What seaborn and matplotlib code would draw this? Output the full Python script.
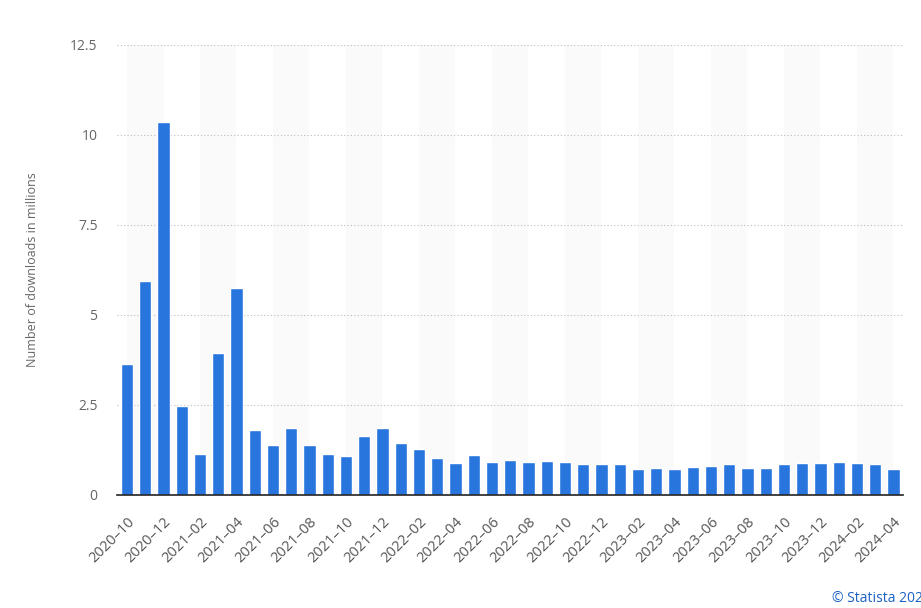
import matplotlib
matplotlib.use("Agg")
import matplotlib.pyplot as plt
import seaborn as sns
import pandas as pd

# monthly downloads, 2020-10 .. 2024-04
months = pd.period_range("2020-10", "2024-04", freq="M").strftime("%Y–%m").tolist()
downloads = [3.65, 5.93, 10.35, 2.48, 1.15, 3.95, 5.75, 1.8, 1.4, 1.85,
             1.4, 1.15, 1.08, 1.65, 1.85, 1.43, 1.27, 1.02, 0.88, 1.12,
             0.92, 0.98, 0.92, 0.95, 0.92, 0.85, 0.85, 0.85, 0.71, 0.74,
             0.71, 0.77, 0.81, 0.85, 0.74, 0.74, 0.85, 0.88, 0.88, 0.92,
             0.88, 0.85, 0.71]
yticks = [0, 2.5, 5, 7.5, 10, 12.5]
ytick_labels = ["0", "2.5", "5", "7.5", "10", "12.5"]

df = pd.DataFrame({"month": months, "downloads": downloads})

sns.set_style("white")
plt.rcParams["font.family"] = ["Open Sans", "DejaVu Sans"]

fig = plt.figure(figsize=(9.21, 6.08), dpi=100)
ax = fig.add_axes([0.127, 0.186, 0.853, 0.740])

# alternating light bands, two months each
for start in range(0, len(months), 4):
    ax.axvspan(start, start + 2, color="#fafafa", zorder=0, lw=0)

sns.barplot(data=df, x="month", y="downloads", color="#2876dd",
            width=0.68, saturation=1, ax=ax, zorder=3)

ax.set_ylim(0, 12.5)
ax.set_xlim(-0.55, len(months) - 0.5)
ax.set_yticks(yticks)
ax.set_yticklabels(ytick_labels)
ax.yaxis.grid(True, linestyle=(0, (1, 2)), color="#bbbbbb", lw=0.8, zorder=1)
ax.set_axisbelow(False)

tick_pos = list(range(0, len(months), 2))
ax.set_xticks(tick_pos)
ax.set_xticklabels([months[i] for i in tick_pos], rotation=45, ha="right",
                   rotation_mode="anchor", fontsize=10.5, color="#555555")
ax.tick_params(axis="y", labelsize=10, labelcolor="#666666", length=0, pad=14)
ax.tick_params(axis="x", length=0, pad=14)

for s in ["top", "right", "left"]:
    ax.spines[s].set_visible(False)
ax.spines["bottom"].set_color("#222222")
ax.spines["bottom"].set_linewidth(1.2)
ax.spines["bottom"].set_zorder(5)

ax.set_xlabel("")
ax.set_ylabel("Number of downloads in millions", fontsize=9, color="#666666", labelpad=22)

fig.text(0.903, 0.003, "© Statista 2024", fontsize=10, color="#1a62c4", ha="left", va="bottom")

fig.savefig("out.png", dpi=100)
